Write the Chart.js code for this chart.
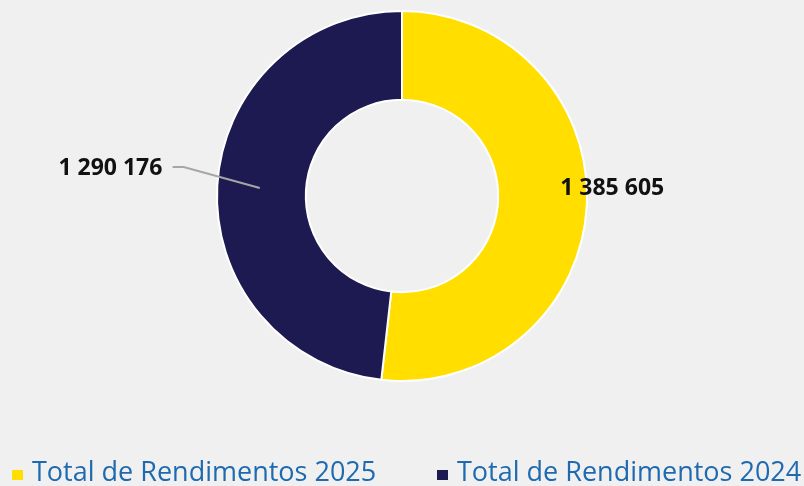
<!DOCTYPE html>
<html lang="pt">
<head>
  <meta charset="UTF-8" />
  <title>Total de Rendimentos</title>
  <style>
    html, body {
      margin: 0;
      padding: 0;
      background-color: #f0f0f0;
    }
    #wrap {
      width: 804px;
      height: 486px;
    }
  </style>
</head>
<body>

  <div id="wrap"><canvas id="rendChart"></canvas></div>

  <script src="https://cdn.jsdelivr.net/npm/chart.js"></script>

  <script>
    // dados
    const labels = ['Total de Rendimentos 2025', 'Total de Rendimentos 2024'];
    const values = [1385605, 1290176];
    const valueLabels = ['1 385 605', '1 290 176'];
    const colors = ['#ffde00', '#1d1a52'];

    // rótulos de valor (um à direita, outro com linha de chamada)
    const valueLabelPlugin = {
      id: 'valueLabels',
      afterDatasetsDraw(chart) {
        const ctx = chart.ctx;
        const meta = chart.getDatasetMeta(0);
        ctx.save();
        ctx.font = 'bold 23px "Open Sans"';
        ctx.fillStyle = '#111111';
        ctx.textBaseline = 'middle';
        meta.data.forEach((arc, i) => {
          const { x, y, outerRadius, startAngle, endAngle } =
            arc.getProps(['x', 'y', 'outerRadius', 'startAngle', 'endAngle'], true);
          const mid = (startAngle + endAngle) / 2;
          if (Math.cos(mid) > 0) {
            ctx.textAlign = 'left';
            ctx.fillText(valueLabels[i], x + outerRadius * 0.855, y - 8);
          } else {
            const px = x + Math.cos(mid) * outerRadius * 0.77;
            const py = y + Math.sin(mid) * outerRadius * 0.77;
            ctx.strokeStyle = '#a6a6a6';
            ctx.lineWidth = 2;
            ctx.beginPath();
            ctx.moveTo(px, py);
            ctx.lineTo(x - outerRadius * 1.18, y - 29);
            ctx.lineTo(x - outerRadius * 1.24, y - 29);
            ctx.stroke();
            ctx.textAlign = 'right';
            ctx.fillText(valueLabels[i], x - outerRadius * 1.295, y - 28);
          }
        });
        ctx.restore();
      }
    };

    // legenda em baixo
    const bottomLegendPlugin = {
      id: 'bottomLegend',
      afterDraw(chart) {
        const ctx = chart.ctx;
        const starts = [12, 437];
        ctx.save();
        ctx.font = '27px "Open Sans"';
        ctx.textBaseline = 'alphabetic';
        ctx.textAlign = 'left';
        chart.data.labels.forEach((lab, i) => {
          ctx.fillStyle = chart.data.datasets[0].backgroundColor[i];
          ctx.fillRect(starts[i], 470, 11, 10);
          ctx.fillStyle = '#1e6ab0';
          ctx.fillText(lab, starts[i] + 20, 481);
        });
        ctx.restore();
      }
    };

    new Chart(document.getElementById('rendChart'), {
      type: 'doughnut',
      data: {
        labels: labels,
        datasets: [{
          data: values,
          backgroundColor: colors,
          borderColor: '#ffffff',
          borderWidth: 2
        }]
      },
      options: {
        responsive: true,
        maintainAspectRatio: false,
        animation: false,
        cutout: '52%',
        layout: { padding: { top: 10, bottom: 104 } },
        plugins: {
          legend: { display: false },
          tooltip: { enabled: false }
        }
      },
      plugins: [valueLabelPlugin, bottomLegendPlugin]
    });
  </script>
</body>
</html>
